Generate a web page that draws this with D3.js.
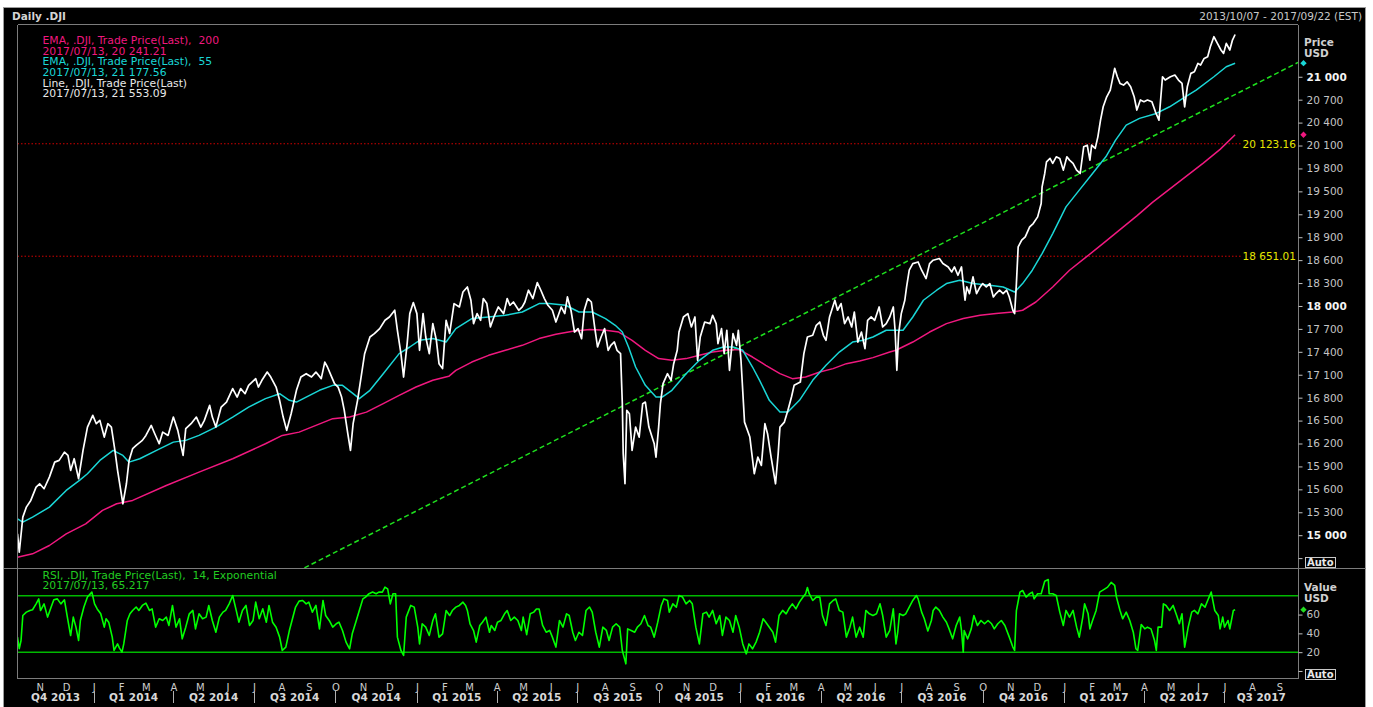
<!DOCTYPE html>
<html>
<head>
<meta charset="utf-8">
<script src="https://cdn.jsdelivr.net/npm/d3@7"></script>
<style>
  body { margin: 0; background: #fff; }
  svg { display: block; }
  text { font-family: 'DejaVu Sans', Verdana, sans-serif; }
</style>
</head>
<body>
<div id="chart"></div>
<script>
// price, daily close of .DJI
const priceLine = [
['2013-10-07',15018],['2013-10-09',14777],['2013-10-13',15236],['2013-10-17',15367],['2013-10-22',15455],['2013-10-28',15629],
['2013-11-01',15673],['2013-11-06',15608],['2013-11-12',15760],['2013-11-18',15956],['2013-11-23',15979],['2013-11-29',16087],
['2013-12-03',16044],['2013-12-06',15848],['2013-12-10',16001],['2013-12-15',15739],['2013-12-20',16110],['2013-12-25',16415],['2013-12-31',16568],
['2014-01-04',16459],['2014-01-08',16503],['2014-01-13',16284],['2014-01-17',16459],['2014-01-21',16415],['2014-01-25',16110],['2014-01-28',15848],
['2014-02-03',15411],['2014-02-07',15673],['2014-02-10',15979],['2014-02-14',16132],['2014-02-18',16175],['2014-02-25',16241],
['2014-03-01',16306],['2014-03-07',16437],['2014-03-11',16328],['2014-03-16',16197],['2014-03-20',16349],['2014-03-26',16306],
['2014-04-01',16546],['2014-04-06',16372],['2014-04-12',16044],['2014-04-15',16394],['2014-04-21',16459],['2014-04-27',16546],
['2014-05-02',16415],['2014-05-06',16503],['2014-05-12',16699],['2014-05-15',16546],['2014-05-19',16415],['2014-05-25',16677],['2014-05-31',16742],
['2014-06-07',16918],['2014-06-12',16808],['2014-06-16',16918],['2014-06-21',16852],['2014-06-25',16961],
['2014-07-03',17049],['2014-07-06',16939],['2014-07-10',17027],['2014-07-16',17135],['2014-07-20',17070],['2014-07-26',16939],['2014-07-30',16765],
['2014-08-03',16546],['2014-08-07',16372],['2014-08-12',16590],['2014-08-18',16896],['2014-08-23',17070],['2014-08-29',17114],
['2014-09-04',17070],['2014-09-09',17135],['2014-09-15',17049],['2014-09-19',17266],['2014-09-22',17201],['2014-09-26',17092],['2014-09-30',16983],
['2014-10-04',16939],['2014-10-08',16808],['2014-10-11',16634],['2014-10-15',16328],['2014-10-18',16110],['2014-10-21',16459],['2014-10-26',16765],['2014-10-30',17070],
['2014-11-03',17376],['2014-11-09',17594],['2014-11-14',17638],['2014-11-20',17704],['2014-11-26',17813],
['2014-12-01',17856],['2014-12-07',17944],['2014-12-10',17682],['2014-12-14',17376],['2014-12-17',17070],['2014-12-21',17507],['2014-12-24',17900],['2014-12-28',18044],
['2015-01-01',17900],['2015-01-04',17420],['2015-01-08',17900],['2015-01-11',17594],['2015-01-15',17376],['2015-01-19',17769],['2015-01-23',17551],['2015-01-26',17245],['2015-01-30',17180],
['2015-02-03',17813],['2015-02-07',17640],['2015-02-12',18031],['2015-02-18',17987],['2015-02-22',18183],['2015-02-27',18249],
['2015-03-03',18075],['2015-03-06',17769],['2015-03-10',17900],['2015-03-14',17813],['2015-03-17',18097],['2015-03-21',18031],['2015-03-25',17725],['2015-03-29',17856],
['2015-04-03',17987],['2015-04-09',17900],['2015-04-13',18097],['2015-04-16',18009],['2015-04-20',18052],['2015-04-26',17944],['2015-04-30',17987],
['2015-05-03',18052],['2015-05-07',18206],['2015-05-12',18097],['2015-05-17',18306],['2015-05-21',18206],['2015-05-25',18097],['2015-05-29',18009],
['2015-06-03',17944],['2015-06-07',17790],['2015-06-13',17987],['2015-06-17',17900],['2015-06-20',18118],['2015-06-24',17944],['2015-06-28',17659],
['2015-07-02',17704],['2015-07-06',17573],['2015-07-09',17944],['2015-07-13',18097],['2015-07-17',18052],['2015-07-21',17704],['2015-07-24',17463],['2015-07-28',17594],
['2015-08-01',17704],['2015-08-05',17420],['2015-08-08',17485],['2015-08-12',17529],['2015-08-15',17420],['2015-08-19',17376],['2015-08-21',16721],['2015-08-22',16066],['2015-08-24',15673],['2015-08-26',16634],['2015-08-29',16590],
['2015-09-01',16110],['2015-09-05',16415],['2015-09-09',16284],['2015-09-13',16721],['2015-09-16',16742],['2015-09-20',16415],['2015-09-26',16197],['2015-09-28',16022],
['2015-10-01',16415],['2015-10-03',16721],['2015-10-06',16983],['2015-10-11',17114],['2015-10-15',17027],['2015-10-18',17245],['2015-10-22',17420],['2015-10-24',17659],['2015-10-29',17856],
['2015-11-03',17900],['2015-11-07',17725],['2015-11-11',17856],['2015-11-14',17289],['2015-11-17',17594],['2015-11-22',17790],['2015-11-28',17769],
['2015-12-01',17878],['2015-12-05',17769],['2015-12-07',17507],['2015-12-11',17704],['2015-12-14',17376],['2015-12-17',17682],['2015-12-20',17158],['2015-12-24',17638],['2015-12-28',17485],['2015-12-30',17682],
['2016-01-02',17289],['2016-01-06',16480],['2016-01-12',16284],['2016-01-17',15804],['2016-01-21',16022],['2016-01-25',15913],['2016-01-29',16459],
['2016-02-01',16328],['2016-02-05',16022],['2016-02-10',15673],['2016-02-13',16066],['2016-02-15',16415],['2016-02-20',16480],['2016-02-24',16634],['2016-02-28',16808],
['2016-03-02',16961],['2016-03-09',17004],['2016-03-13',17376],['2016-03-17',17594],['2016-03-23',17616],['2016-03-27',17747],['2016-03-31',17790],
['2016-04-04',17616],['2016-04-07',17551],['2016-04-11',17856],['2016-04-17',18075],['2016-04-20',17944],['2016-04-24',18031],['2016-04-28',17769],
['2016-05-02',17856],['2016-05-06',17725],['2016-05-09',17921],['2016-05-13',17528],['2016-05-17',17659],['2016-05-21',17442],['2016-05-24',17813],['2016-05-28',17856],
['2016-06-01',17813],['2016-06-06',17987],['2016-06-10',17725],['2016-06-14',17769],['2016-06-18',17856],['2016-06-22',17987],['2016-06-24',17682],['2016-06-26',17158],['2016-06-28',17638],
['2016-07-01',17900],['2016-07-05',18075],['2016-07-07',18249],['2016-07-10',18468],['2016-07-14',18555],['2016-07-20',18576],['2016-07-24',18468],['2016-07-29',18359],
['2016-08-02',18555],['2016-08-06',18599],['2016-08-13',18621],['2016-08-17',18555],['2016-08-23',18511],['2016-08-27',18445],['2016-08-30',18511],
['2016-09-03',18402],['2016-09-07',18511],['2016-09-09',18293],['2016-09-11',18075],['2016-09-13',18249],['2016-09-16',18162],['2016-09-20',18380],['2016-09-24',18162],['2016-09-28',18249],
['2016-10-01',18293],['2016-10-05',18249],['2016-10-09',18293],['2016-10-13',18118],['2016-10-16',18162],['2016-10-20',18206],['2016-10-24',18162],['2016-10-28',18206],['2016-10-31',18118],
['2016-11-04',17944],['2016-11-06',17900],['2016-11-08',18293],['2016-11-10',18773],['2016-11-14',18861],['2016-11-18',18904],['2016-11-23',19035],['2016-11-27',19079],
['2016-12-02',19166],['2016-12-06',19341],['2016-12-07',19559],['2016-12-10',19734],['2016-12-12',19886],['2016-12-16',19931],['2016-12-19',19866],['2016-12-23',19952],['2016-12-27',19931],['2016-12-31',19778],
['2017-01-04',19952],['2017-01-07',19909],['2017-01-11',19866],['2017-01-15',19778],['2017-01-19',19734],['2017-01-23',20083],['2017-01-27',20105],['2017-01-30',19909],
['2017-02-01',20105],['2017-02-05',20062],['2017-02-08',20214],['2017-02-11',20433],['2017-02-14',20607],['2017-02-18',20738],['2017-02-22',20826],['2017-02-27',21110],
['2017-03-02',21000],['2017-03-05',20913],['2017-03-09',20891],['2017-03-13',20934],['2017-03-17',20869],['2017-03-21',20738],['2017-03-24',20564],['2017-03-28',20696],
['2017-04-01',20673],['2017-04-05',20696],['2017-04-10',20673],['2017-04-14',20541],['2017-04-18',20432],['2017-04-22',21000],['2017-04-25',20957],
['2017-05-01',21000],['2017-05-06',21022],['2017-05-10',20957],['2017-05-14',20913],['2017-05-17',20607],['2017-05-20',20869],['2017-05-24',21044],['2017-05-28',21065],
['2017-06-01',21175],['2017-06-04',21153],['2017-06-08',21240],['2017-06-12',21262],['2017-06-15',21393],['2017-06-19',21524],['2017-06-23',21437],['2017-06-27',21350],['2017-06-30',21306],
['2017-07-03',21437],['2017-07-07',21350],['2017-07-10',21481],['2017-07-13',21553.09]
];

// EMA 55
const ema55 = [
['2013-10-07',15215],['2013-10-13',15170],['2013-10-24',15236],['2013-11-12',15367],['2013-12-01',15586],['2013-12-16',15717],['2013-12-25',15804],
['2014-01-08',15979],['2014-01-23',16110],['2014-02-03',16044],['2014-02-10',15956],['2014-02-22',16001],['2014-03-13',16110],['2014-04-01',16218],
['2014-04-15',16241],['2014-04-30',16306],['2014-05-19',16415],['2014-06-07',16546],['2014-06-25',16677],['2014-07-14',16787],['2014-07-30',16852],
['2014-08-10',16765],['2014-08-18',16742],['2014-08-29',16808],['2014-09-13',16896],['2014-09-28',16961],['2014-10-09',16961],['2014-10-21',16852],
['2014-10-28',16787],['2014-11-09',16896],['2014-11-24',17114],['2014-12-12',17376],['2014-12-24',17463],['2015-01-04',17551],['2015-01-19',17573],
['2015-02-03',17528],['2015-02-14',17704],['2015-03-04',17835],['2015-03-23',17856],['2015-04-11',17878],['2015-04-30',17921],['2015-05-19',18031],
['2015-05-30',18031],['2015-06-18',18009],['2015-07-03',17921],['2015-07-18',17921],['2015-08-02',17835],['2015-08-13',17747],['2015-08-21',17659],
['2015-08-28',17463],['2015-09-05',17201],['2015-09-16',16961],['2015-09-28',16808],['2015-10-05',16808],['2015-10-16',16896],['2015-11-01',17114],
['2015-11-16',17289],['2015-12-01',17420],['2015-12-13',17463],['2015-12-24',17463],['2016-01-04',17420],['2016-01-15',17201],['2016-01-23',17027],
['2016-02-03',16765],['2016-02-15',16611],['2016-02-24',16611],['2016-03-08',16765],['2016-03-23',17027],['2016-04-07',17223],['2016-04-22',17397],
['2016-05-07',17528],['2016-05-19',17551],['2016-05-30',17594],['2016-06-14',17682],['2016-06-22',17682],['2016-07-03',17682],['2016-07-14',17856],
['2016-07-26',18075],['2016-08-10',18206],['2016-08-21',18293],['2016-09-05',18337],['2016-09-20',18293],['2016-10-09',18271],['2016-10-24',18249],
['2016-11-06',18183],['2016-11-15',18293],['2016-11-26',18468],['2016-12-07',18686],['2016-12-19',18948],['2017-01-03',19297],['2017-01-18',19516],
['2017-02-02',19734],['2017-02-17',19952],['2017-02-28',20171],['2017-03-12',20367],['2017-03-27',20455],['2017-04-15',20520],['2017-04-30',20607],
['2017-05-15',20717],['2017-05-30',20826],['2017-06-19',21000],['2017-07-03',21131],['2017-07-13',21177.56]
];

// EMA 200
const ema200 = [
['2013-10-07',14712],['2013-10-24',14756],['2013-11-12',14865],['2013-12-01',15018],['2013-12-23',15149],['2014-01-11',15324],['2014-01-27',15411],
['2014-02-14',15455],['2014-03-24',15651],['2014-04-30',15825],['2014-06-07',16001],['2014-07-14',16197],['2014-08-02',16306],['2014-08-21',16349],
['2014-09-28',16525],['2014-10-17',16546],['2014-11-05',16611],['2014-11-24',16721],['2014-12-12',16830],['2014-12-31',16939],['2015-01-19',17027],
['2015-02-06',17079],['2015-02-14',17158],['2015-03-04',17266],['2015-03-23',17354],['2015-04-11',17420],['2015-04-30',17485],['2015-05-19',17573],
['2015-06-07',17629],['2015-06-26',17668],['2015-07-15',17691],['2015-08-02',17682],['2015-08-17',17659],['2015-09-01',17551],['2015-09-16',17420],
['2015-10-01',17311],['2015-10-16',17289],['2015-11-01',17311],['2015-11-16',17354],['2015-12-01',17397],['2015-12-16',17420],['2015-12-31',17429],
['2016-01-15',17332],['2016-01-30',17223],['2016-02-15',17114],['2016-02-29',17049],['2016-03-15',17070],['2016-03-31',17135],['2016-04-15',17180],
['2016-04-30',17245],['2016-05-15',17279],['2016-05-30',17324],['2016-06-18',17397],['2016-06-25',17420],['2016-07-14',17528],['2016-08-02',17659],
['2016-08-21',17769],['2016-09-09',17835],['2016-09-28',17878],['2016-10-16',17900],['2016-11-04',17921],['2016-11-15',17944],['2016-11-30',18052],
['2016-12-19',18249],['2017-01-07',18468],['2017-01-26',18642],['2017-02-14',18820],['2017-03-05',19000],['2017-03-24',19180],['2017-04-11',19360],
['2017-04-30',19530],['2017-05-19',19700],['2017-06-07',19870],['2017-06-26',20050],['2017-07-13',20241.21]
];

// RSI 14, exponential
const rsi14 = [
['2013-10-07',36],['2013-10-09',23.7],['2013-10-11',32.4],['2013-10-13',59],['2013-10-17',62.6],['2013-10-21',64.4],['2013-10-24',65.1],['2013-10-28',71.4],['2013-10-31',76.7],
['2013-11-02',64.3],['2013-11-06',71.4],['2013-11-10',57.3],['2013-11-14',68],['2013-11-17',75.7],['2013-11-21',76.7],['2013-11-25',71.4],['2013-11-29',75.7],
['2013-12-02',59],['2013-12-06',37.7],['2013-12-09',57.3],['2013-12-12',46.6],['2013-12-15',32.4],['2013-12-17',53.7],['2013-12-21',68],['2013-12-25',78.6],['2013-12-30',83.9],
['2014-01-02',71.4],['2014-01-05',66],['2014-01-09',60.8],['2014-01-13',46.6],['2014-01-15',55.5],['2014-01-18',51.9],['2014-01-22',36],['2014-01-24',21.8],['2014-01-28',28.8],['2014-01-30',24.6],
['2014-02-02',20],['2014-02-04',28.8],['2014-02-08',53.7],['2014-02-11',60.8],['2014-02-14',64.3],['2014-02-18',68],['2014-02-21',64.4],['2014-02-25',69.7],
['2014-03-01',72.2],['2014-03-05',64.4],['2014-03-08',66],['2014-03-12',46.6],['2014-03-16',55.5],['2014-03-20',53.7],['2014-03-24',57.3],['2014-03-27',48.4],['2014-03-31',69.7],
['2014-04-04',46.6],['2014-04-08',55.5],['2014-04-11',34.2],['2014-04-15',46.6],['2014-04-19',60.8],['2014-04-23',64.4],['2014-04-26',44.8],['2014-04-30',60.8],
['2014-05-04',55.5],['2014-05-08',57.3],['2014-05-11',69.7],['2014-05-15',53.7],['2014-05-19',41.2],['2014-05-23',57.3],['2014-05-27',62.6],['2014-05-30',64.4],
['2014-06-03',71.4],['2014-06-07',80.3],['2014-06-11',64.4],['2014-06-14',51.9],['2014-06-18',64.4],['2014-06-22',69.7],['2014-06-26',48.4],['2014-06-30',53.7],
['2014-07-03',73.2],['2014-07-07',55.5],['2014-07-11',66.1],['2014-07-15',51.9],['2014-07-18',69.7],['2014-07-22',51.9],['2014-07-26',46.6],['2014-07-30',36],
['2014-08-02',21.8],['2014-08-06',25.4],['2014-08-10',43],['2014-08-13',53.7],['2014-08-17',68],['2014-08-21',74.3],['2014-08-25',75],['2014-08-29',71.4],
['2014-09-01',73.2],['2014-09-05',62.6],['2014-09-09',69.7],['2014-09-13',44.8],['2014-09-17',75],['2014-09-20',59],['2014-09-24',53.7],['2014-09-28',46.6],
['2014-10-02',50.2],['2014-10-05',52],['2014-10-09',43.1],['2014-10-13',30.7],['2014-10-17',23.6],['2014-10-20',39.5],['2014-10-24',51.9],['2014-10-28',64.3],
['2014-11-01',76.7],['2014-11-04',78.6],['2014-11-08',82.2],['2014-11-12',83.9],['2014-11-16',82.2],['2014-11-19',83.9],['2014-11-23',83.9],['2014-11-26',89.1],['2014-11-29',87.3],
['2014-12-02',71.4],['2014-12-05',82.2],['2014-12-08',82.2],['2014-12-10',36],['2014-12-14',21.8],['2014-12-17',16.5],['2014-12-20',57.3],['2014-12-25',69.7],['2014-12-29',67.9],
['2015-01-02',46.6],['2015-01-04',28.8],['2015-01-07',50.2],['2015-01-11',46.6],['2015-01-15',37.8],['2015-01-19',53.7],['2015-01-22',60.8],['2015-01-26',36],['2015-01-30',39.5],
['2015-02-03',64.3],['2015-02-07',59],['2015-02-10',64.3],['2015-02-14',67.9],['2015-02-18',69.7],['2015-02-22',73.2],['2015-02-25',69.7],['2015-02-27',64.4],
['2015-03-02',50.2],['2015-03-06',43],['2015-03-09',30.7],['2015-03-13',48.4],['2015-03-16',51.9],['2015-03-20',57.3],['2015-03-24',41.2],['2015-03-26',48.4],['2015-03-30',43.1],
['2015-04-02',51.9],['2015-04-06',53.7],['2015-04-10',60.8],['2015-04-13',64.3],['2015-04-17',53.7],['2015-04-21',57.3],['2015-04-25',53.7],['2015-04-29',43.1],
['2015-05-01',57.3],['2015-05-05',38.7],['2015-05-09',60.8],['2015-05-13',62.6],['2015-05-16',66],['2015-05-19',66],['2015-05-23',48.4],['2015-05-27',41.2],['2015-05-31',43.1],
['2015-06-03',36],['2015-06-07',25.4],['2015-06-11',53.7],['2015-06-15',46.6],['2015-06-19',60.8],['2015-06-22',59],['2015-06-26',41.2],['2015-06-29',32.4],
['2015-07-03',41.2],['2015-07-07',37.8],['2015-07-11',64.3],['2015-07-15',68],['2015-07-18',62.6],['2015-07-22',41.2],['2015-07-26',25.4],['2015-07-30',46.6],
['2015-08-03',43.1],['2015-08-06',32.4],['2015-08-10',46.6],['2015-08-14',50.2],['2015-08-18',46.6],['2015-08-21',21.8],['2015-08-25',7.6],['2015-08-27',44.8],['2015-08-31',43.1],
['2015-09-04',41.2],['2015-09-07',46.6],['2015-09-11',50.2],['2015-09-15',59],['2015-09-19',48.4],['2015-09-22',46.6],['2015-09-26',36],['2015-09-30',51.9],
['2015-10-04',69.7],['2015-10-07',76.7],['2015-10-11',75],['2015-10-13',62.6],['2015-10-17',71.4],['2015-10-21',67.9],['2015-10-24',80.3],['2015-10-28',78.6],
['2015-11-01',71.4],['2015-11-05',75],['2015-11-08',71.4],['2015-11-12',46.6],['2015-11-16',28.8],['2015-11-20',60.8],['2015-11-24',62.6],['2015-11-27',57.3],
['2015-12-01',64.4],['2015-12-05',50.2],['2015-12-09',59],['2015-12-12',37.8],['2015-12-16',57.3],['2015-12-20',53.7],['2015-12-24',41.2],['2015-12-27',59],['2015-12-31',46.6],
['2016-01-04',28.8],['2016-01-08',18.2],['2016-01-11',28.8],['2016-01-15',23.6],['2016-01-19',30.7],['2016-01-23',41.2],['2016-01-27',55.5],['2016-01-30',51.9],
['2016-02-03',46.6],['2016-02-07',41.2],['2016-02-10',30.7],['2016-02-14',59],['2016-02-18',64.4],['2016-02-22',60.8],['2016-02-25',66.1],['2016-02-29',71.4],
['2016-03-04',66.1],['2016-03-08',73.2],['2016-03-12',78.6],['2016-03-15',82.2],['2016-03-17',88.7],['2016-03-19',82.2],['2016-03-23',75],['2016-03-27',78.6],['2016-03-31',78.6],
['2016-04-03',59],['2016-04-07',48.4],['2016-04-11',71.4],['2016-04-15',75],['2016-04-18',76.7],['2016-04-22',64.4],['2016-04-26',62.6],['2016-04-30',36],
['2016-05-04',46.6],['2016-05-07',57.3],['2016-05-11',36],['2016-05-15',46.6],['2016-05-19',36],['2016-05-22',64.4],['2016-05-26',60.8],['2016-05-30',59],
['2016-06-03',60.8],['2016-06-07',71.4],['2016-06-10',59],['2016-06-14',36],['2016-06-18',43.1],['2016-06-22',66.1],['2016-06-25',28.8],['2016-06-27',41.2],['2016-06-29',60.8],
['2016-07-03',59],['2016-07-06',60.8],['2016-07-10',67.9],['2016-07-14',75],['2016-07-18',80.3],['2016-07-20',76.7],['2016-07-24',62.6],['2016-07-27',55.5],['2016-07-31',42.6],
['2016-08-04',53.7],['2016-08-06',64.4],['2016-08-09',68],['2016-08-13',64.4],['2016-08-17',57.3],['2016-08-21',51.9],['2016-08-24',44.8],['2016-08-28',34.2],
['2016-09-01',48.4],['2016-09-05',57.3],['2016-09-07',43.1],['2016-09-09',20],['2016-09-10',43.1],['2016-09-14',34.2],['2016-09-18',44.8],['2016-09-21',59],['2016-09-25',48.4],['2016-09-29',53.7],
['2016-10-03',50.2],['2016-10-07',53.7],['2016-10-11',50.2],['2016-10-14',44.8],['2016-10-18',50.2],['2016-10-22',53.7],['2016-10-26',48.4],['2016-10-31',36],
['2016-11-04',25.4],['2016-11-06',21.8],['2016-11-08',64.3],['2016-11-12',83.9],['2016-11-15',85.6],['2016-11-19',78.6],['2016-11-23',82.2],['2016-11-26',83.9],['2016-11-28',76.7],
['2016-12-02',82.2],['2016-12-06',82.2],['2016-12-10',95.4],['2016-12-14',97.2],['2016-12-15',82.2],['2016-12-19',82.2],['2016-12-23',80.3],['2016-12-27',62.6],['2016-12-31',48.4],
['2017-01-03',64.4],['2017-01-07',57.3],['2017-01-11',64.4],['2017-01-15',46.6],['2017-01-18',36],['2017-01-22',57.3],['2017-01-24',71.4],['2017-01-28',60.8],['2017-01-30',44.8],
['2017-02-02',53.7],['2017-02-06',64.4],['2017-02-10',83.9],['2017-02-16',87.4],['2017-02-19',89.2],['2017-02-23',94.2],['2017-02-27',91],
['2017-03-01',78.6],['2017-03-05',64.4],['2017-03-08',55.5],['2017-03-12',62.6],['2017-03-16',53.7],['2017-03-20',41.2],['2017-03-23',23.6],['2017-03-25',21.8],['2017-03-29',49.5],
['2017-04-02',44.8],['2017-04-05',46.6],['2017-04-09',44.8],['2017-04-13',32.4],['2017-04-15',21.8],['2017-04-17',46.6],['2017-04-21',46.6],['2017-04-23',71.4],['2017-04-26',69.7],['2017-04-30',64.4],
['2017-05-04',69.7],['2017-05-08',59],['2017-05-11',50.2],['2017-05-14',60.8],['2017-05-17',25.4],['2017-05-21',46.6],['2017-05-25',62.6],['2017-05-28',64.4],
['2017-06-01',60.8],['2017-06-05',71.4],['2017-06-09',67.9],['2017-06-12',75],['2017-06-16',83.9],['2017-06-20',64.4],['2017-06-24',59],['2017-06-26',44.8],['2017-06-29',57.3],
['2017-07-01',46.6],['2017-07-05',53.7],['2017-07-07',44.8],['2017-07-11',64.4],['2017-07-13',65.217]
];

const trendLine = [['2014-08-27', 14572], ['2017-09-22', 21187]];
const priceLevels = [20123.16, 18651.01];
const rsiBands = [80, 20];
const priceTicks = [14700, 15000, 15300, 15600, 15900, 16200, 16500, 16800, 17100, 17400, 17700, 18000,
                    18300, 18600, 18900, 19200, 19500, 19800, 20100, 20400, 20700, 21000];
const rsiTicks = [0, 20, 40, 60];
const monthLetters = ['J','F','M','A','M','J','J','A','S','O','N','D'];
const quarterLabels = ['Q4 2013','Q1 2014','Q2 2014','Q3 2014','Q4 2014','Q1 2015','Q2 2015','Q3 2015',
                       'Q4 2015','Q1 2016','Q2 2016','Q3 2016','Q4 2016','Q1 2017','Q2 2017','Q3 2017'];
const priceLegend = [
  ['EMA, .DJI, Trade Price(Last),  200', '#f0187f'],
  ['2017/07/13, 20 241.21', '#f0187f'],
  ['EMA, .DJI, Trade Price(Last),  55', '#1ad6d6'],
  ['2017/07/13, 21 177.56', '#1ad6d6'],
  ['Line, .DJI, Trade Price(Last)', '#e8e8e8'],
  ['2017/07/13, 21 553.09', '#e8e8e8']
];
const rsiLegend = ['RSI, .DJI, Trade Price(Last),  14, Exponential', '2017/07/13, 65.217'];

class DJIChart {

    constructor(_config) {
        this.config = _config;
        this.initVis();
    }

    initVis() {
        let vis = this;
        const c = vis.config;
        vis.parse = d3.timeParse('%Y-%m-%d');

        vis.svg = d3.select(c.parentElement).append('svg')
            .attr('width', c.width)
            .attr('height', c.height);

        // scales
        vis.start = vis.parse('2013-10-07');
        vis.end = vis.parse('2017-09-22');
        vis.xScale = d3.scaleTime().domain([vis.start, vis.end]).range([c.left, c.right]);
        vis.yPrice = d3.scaleLinear().domain([14564, 21684]).range([c.split, c.top]);
        vis.yRsi = d3.scaleLinear().domain([-8, 109]).range([c.bottom, c.split]);

        // background panel
        vis.svg.append('rect')
            .attr('x', 3.5).attr('y', 7.5)
            .attr('width', 1362).attr('height', 700)
            .attr('fill', '#000').attr('stroke', '#9c9c9c');

        const defs = vis.svg.append('defs');
        defs.append('clipPath').attr('id', 'clip-price').append('rect')
            .attr('x', c.left).attr('y', c.top)
            .attr('width', c.right - c.left).attr('height', c.split - c.top);
        defs.append('clipPath').attr('id', 'clip-rsi').append('rect')
            .attr('x', c.left).attr('y', c.split)
            .attr('width', c.right - c.left).attr('height', c.bottom - c.split);
        defs.append('clipPath').attr('id', 'clip-auto').append('rect')
            .attr('x', 0).attr('y', 0).attr('width', 30).attr('height', 10);

        vis.pricePane = vis.svg.append('g').attr('clip-path', 'url(#clip-price)');
        vis.rsiPane = vis.svg.append('g').attr('clip-path', 'url(#clip-rsi)');
    }

    renderVis() {
        let vis = this;
        const c = vis.config;
        const toPts = (arr) => arr.map((d) => ({date: vis.parse(d[0]), value: d[1]}));

        const priceGen = d3.line().x((d) => vis.xScale(d.date)).y((d) => vis.yPrice(d.value));
        const rsiGen = d3.line().x((d) => vis.xScale(d.date)).y((d) => vis.yRsi(d.value));

        // horizontal price levels
        vis.pricePane.selectAll('.level')
            .data(priceLevels)
            .join('line')
            .attr('class', 'level')
            .attr('x1', c.left).attr('x2', 1241)
            .attr('y1', (d) => vis.yPrice(d)).attr('y2', (d) => vis.yPrice(d))
            .attr('stroke', '#d00000')
            .attr('stroke-width', 1)
            .attr('stroke-dasharray', '1.5,2');

        // trend line
        vis.pricePane.append('path')
            .datum(toPts(trendLine))
            .attr('d', priceGen)
            .attr('fill', 'none')
            .attr('stroke', '#1ee01e')
            .attr('stroke-width', 1.5)
            .attr('stroke-dasharray', '5,3');

        const series = [
            {data: ema200, color: '#f0187f', width: 1.5},
            {data: ema55, color: '#1ad6d6', width: 1.5},
            {data: priceLine, color: '#ffffff', width: 1.7}
        ];
        vis.pricePane.selectAll('.series')
            .data(series)
            .join('path')
            .attr('class', 'series')
            .attr('d', (d) => priceGen(toPts(d.data)))
            .attr('fill', 'none')
            .attr('stroke', (d) => d.color)
            .attr('stroke-width', (d) => d.width)
            .attr('stroke-linejoin', 'round');

        // rsi bands + line
        vis.rsiPane.selectAll('.band')
            .data(rsiBands)
            .join('line')
            .attr('class', 'band')
            .attr('x1', c.left).attr('x2', c.right)
            .attr('y1', (d) => vis.yRsi(d)).attr('y2', (d) => vis.yRsi(d))
            .attr('stroke', '#00b800')
            .attr('stroke-width', 1.5);
        vis.rsiPane.append('path')
            .datum(toPts(rsi14))
            .attr('d', rsiGen)
            .attr('fill', 'none')
            .attr('stroke', '#00ff00')
            .attr('stroke-width', 1.6)
            .attr('stroke-linejoin', 'round');

        // frame
        const frame = [
            [c.left, c.top, c.right, c.top],
            [c.left, c.top, c.left, c.bottom],
            [c.right, c.top, c.right, c.bottom],
            [c.left, c.bottom, c.right, c.bottom],
            [3.5, c.split, 1365.5, c.split]
        ];
        vis.svg.selectAll('.frame')
            .data(frame)
            .join('line')
            .attr('class', 'frame')
            .attr('x1', (d) => d[0]).attr('y1', (d) => d[1])
            .attr('x2', (d) => d[2]).attr('y2', (d) => d[3])
            .attr('stroke', '#7c7c7c')
            .attr('stroke-width', 1)
            .attr('shape-rendering', 'crispEdges');

        // titles
        vis.svg.append('text')
            .attr('x', 12).attr('y', 16)
            .attr('dominant-baseline', 'central')
            .attr('font-size', '10.5px').attr('font-weight', 'bold')
            .attr('fill', '#d4d4d4')
            .text('Daily .DJI');
        vis.svg.append('text')
            .attr('x', 1362).attr('y', 16)
            .attr('dominant-baseline', 'central')
            .attr('text-anchor', 'end')
            .attr('font-size', '10.5px')
            .attr('fill', '#c8c8c8')
            .text('2013/10/07 - 2017/09/22 (EST)');

        // legends
        vis.svg.selectAll('.legend')
            .data(priceLegend)
            .join('text')
            .attr('class', 'legend')
            .attr('x', 42.5)
            .attr('y', (d, i) => 40.7 + i * 10.6)
            .attr('dominant-baseline', 'central')
            .attr('font-size', '10.8px')
            .style('white-space', 'pre')
            .attr('fill', (d) => d[1])
            .text((d) => d[0]);
        vis.svg.selectAll('.rsi-legend')
            .data(rsiLegend)
            .join('text')
            .attr('class', 'rsi-legend')
            .attr('x', 42.5)
            .attr('y', (d, i) => 575 + i * 10.6)
            .attr('dominant-baseline', 'central')
            .attr('font-size', '10.8px')
            .style('white-space', 'pre')
            .attr('fill', '#22cc22')
            .text((d) => d);

        // level labels
        vis.svg.selectAll('.level-label')
            .data(priceLevels)
            .join('text')
            .attr('class', 'level-label')
            .attr('x', 1296)
            .attr('y', (d) => vis.yPrice(d))
            .attr('dominant-baseline', 'central')
            .attr('text-anchor', 'end')
            .attr('font-size', '10.5px')
            .attr('fill', '#e6e600')
            .text((d) => d3.format(',.2f')(d).replace(',', ' '));

        // price axis
        const fmt = (v) => d3.format(',')(v).replace(',', ' ');
        const yAxisP = d3.axisRight(vis.yPrice)
            .tickValues(priceTicks)
            .tickSize(4).tickPadding(4)
            .tickFormat((d) => d === 14700 ? '' : fmt(d));
        const gP = vis.svg.append('g')
            .attr('transform', `translate(${c.right + 0.5}, 0)`)
            .call(yAxisP);
        vis.styleAxis(gP);
        gP.selectAll('.tick text')
            .attr('font-weight', (d) => d % 3000 === 0 ? 'bold' : 'normal')
            .attr('fill', (d) => d % 3000 === 0 ? '#f4f4f4' : '#c4c4c4');

        // rsi axis
        const yAxisR = d3.axisRight(vis.yRsi)
            .tickValues(rsiTicks)
            .tickSize(4).tickPadding(4)
            .tickFormat((d) => d === 0 ? '' : d);
        const gR = vis.svg.append('g')
            .attr('transform', `translate(${c.right + 0.5}, 0)`)
            .call(yAxisR);
        vis.styleAxis(gR);

        // pane captions
        const captions = [['Price', 42.3], ['USD', 53.3], ['Value', 586.7], ['USD', 598]];
        vis.svg.selectAll('.caption')
            .data(captions)
            .join('text')
            .attr('class', 'caption')
            .attr('x', 1304).attr('y', (d) => d[1])
            .attr('dominant-baseline', 'central')
            .attr('font-size', '10.5px').attr('font-weight', 'bold')
            .attr('fill', '#d0d0d0')
            .text((d) => d[0]);

        // last value markers
        const lastOf = (arr) => arr[arr.length - 1][1];
        const markers = [
            {y: vis.yPrice(lastOf(ema55)), color: '#1ad6d6'},
            {y: vis.yPrice(lastOf(ema200)), color: '#f0187f'},
            {y: vis.yRsi(lastOf(rsi14)), color: '#22dd22'}
        ];
        vis.svg.selectAll('.marker')
            .data(markers)
            .join('path')
            .attr('class', 'marker')
            .attr('d', d3.symbol().type(d3.symbolSquare).size(20))
            .attr('transform', (d) => `translate(1303.5, ${d.y}) rotate(45)`)
            .attr('fill', (d) => d.color);

        // auto buttons
        [557.5, 669.5].forEach((y) => {
            const g = vis.svg.append('g').attr('transform', `translate(1305.5, ${y})`);
            g.append('rect').attr('width', 30).attr('height', 10)
                .attr('fill', '#000').attr('stroke', '#c8c8c8');
            g.append('g').attr('clip-path', 'url(#clip-auto)')
                .append('text')
                .attr('x', 1.5).attr('y', 5.3)
                .attr('dominant-baseline', 'central')
                .attr('font-size', '10px').attr('font-weight', 'bold')
                .attr('fill', '#e8e8e8')
                .text('Auto');
        });

        // month letters
        const xAxis = d3.axisBottom(vis.xScale)
            .tickValues(d3.timeMonth.range(d3.timeDay.offset(vis.start, 1), vis.end))
            .tickSize(0).tickPadding(5)
            .tickFormat((d) => monthLetters[d.getMonth()]);
        const gX = vis.svg.append('g')
            .attr('transform', `translate(0, ${c.bottom})`)
            .call(xAxis);
        gX.select('.domain').remove();
        gX.selectAll('.tick text')
            .attr('font-family', "'DejaVu Sans', sans-serif")
            .attr('font-size', '10px')
            .attr('fill', '#cccccc');

        // quarters
        const qStarts = d3.timeMonth.every(3).range(vis.parse('2013-10-01'), vis.end);
        const quarters = qStarts.map((s, i) => {
            const e = d3.timeMonth.offset(s, 3);
            const x0 = vis.xScale(s < vis.start ? vis.start : s);
            const x1 = vis.xScale(e > vis.end ? vis.end : e);
            return {label: quarterLabels[i], mid: (x0 + x1) / 2, start: s};
        });
        vis.svg.selectAll('.quarter')
            .data(quarters)
            .join('text')
            .attr('class', 'quarter')
            .attr('x', (d) => d.mid).attr('y', 697)
            .attr('dominant-baseline', 'central')
            .attr('text-anchor', 'middle')
            .attr('font-size', '10.5px').attr('font-weight', 'bold')
            .attr('fill', '#d8d8d8')
            .text((d) => d.label);
        vis.svg.selectAll('.q-sep')
            .data(quarters.filter((d) => d.start > vis.start))
            .join('line')
            .attr('class', 'q-sep')
            .attr('x1', (d) => Math.round(vis.xScale(d.start)) + 0.5)
            .attr('x2', (d) => Math.round(vis.xScale(d.start)) + 0.5)
            .attr('y1', 691).attr('y2', 703)
            .attr('stroke', '#b0b0b0');
    }

    styleAxis(g) {
        g.select('.domain').remove();
        g.selectAll('.tick line').attr('stroke', '#c0c0c0');
        g.selectAll('.tick text')
            .attr('font-family', "'DejaVu Sans', sans-serif")
            .attr('font-size', '10.5px')
            .attr('fill', '#c4c4c4');
    }
}

const chart = new DJIChart({
    parentElement: '#chart',
    width: 1373, height: 707,
    left: 17.5, right: 1298, top: 24.5, split: 568.5, bottom: 678.5
});
chart.renderVis();
</script>
</body>
</html>
